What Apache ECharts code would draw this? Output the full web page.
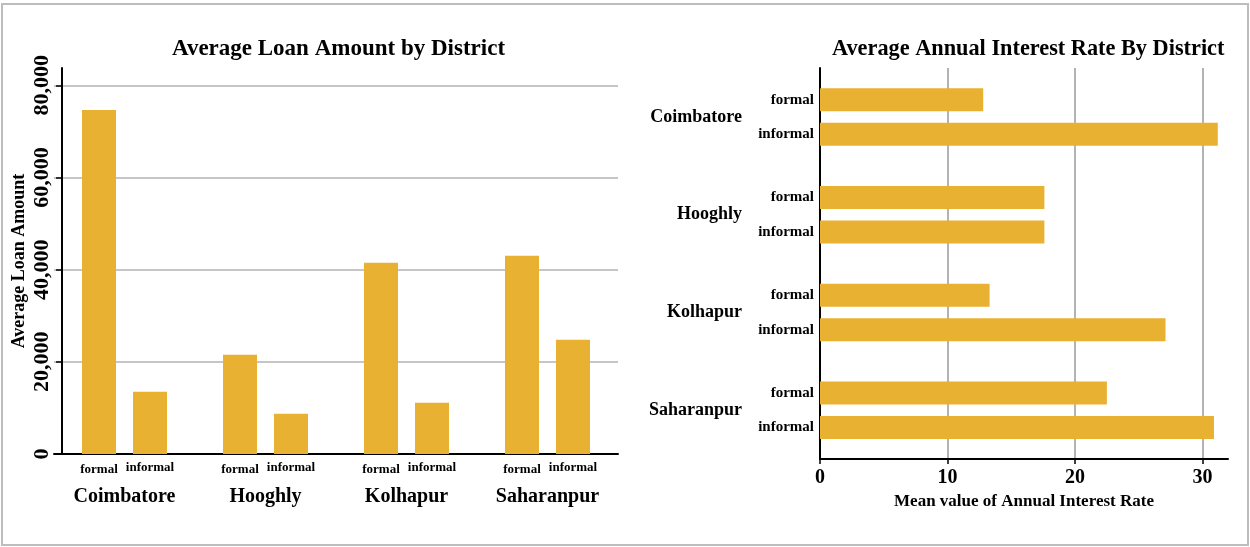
<!DOCTYPE html>
<html>
<head>
<meta charset="utf-8">
<script src="https://cdn.jsdelivr.net/npm/echarts@6/dist/echarts.min.js"></script>
<style>
html, body { margin: 0; padding: 0; background: #fff; }
#main { width: 1250px; height: 547px; }
</style>
</head>
<body>
<div id="main"></div>
<script>
// data
var districts = ['Coimbatore', 'Hooghly', 'Kolhapur', 'Saharanpur'];
var loanFormal = [74650, 21530, 41470, 42990];
var loanInformal = [13500, 8740, 11120, 24780];
var rateFormal = [12.8, 17.6, 13.3, 22.5];
var rateInformal = [31.2, 17.6, 27.1, 30.9];
var loanTicks = [0, 20000, 40000, 60000, 80000];
var rateTicks = [0, 10, 20, 30];

var serif = "'Liberation Serif', 'Times New Roman', serif";
var barColor = '#E9B131';
var gridColor = '#b3b3b3';

var myChart = echarts.init(document.getElementById('main'));

var option = {
    backgroundColor: '#fff',
    animation: false,
    title: [{
        text: 'Average Loan Amount by District',
        left: 172, top: 38, padding: 0,
        textStyle: { fontFamily: serif, fontSize: 23, fontWeight: 'bold', color: '#000' }
    }, {
        text: 'Average Annual Interest Rate By District',
        left: 832, top: 38, padding: 0,
        textStyle: { fontFamily: serif, fontSize: 22.3, fontWeight: 'bold', color: '#000' }
    }],
    graphic: [{
        type: 'rect',
        shape: { x: 2, y: 4, width: 1246, height: 541 },
        style: { fill: 'none', stroke: '#bdbdbd', lineWidth: 2 },
        silent: true
    }],
    grid: [
        { left: 54, top: 68, width: 564, height: 386 },
        { left: 820, top: 68, width: 408, height: 391 }
    ],
    xAxis: [{
        gridIndex: 0,
        type: 'category',
        data: districts,
        axisLine: { lineStyle: { color: '#000', width: 2 } },
        axisTick: { show: false },
        axisLabel: { margin: 33, fontFamily: serif, fontSize: 20, fontWeight: 'bold', color: '#000' }
    }, {
        gridIndex: 1,
        type: 'value',
        min: 0, max: 32, interval: 10,
        name: 'Mean value of Annual Interest Rate',
        nameLocation: 'middle',
        nameGap: 32,
        nameTextStyle: { fontFamily: serif, fontSize: 17, fontWeight: 'bold', color: '#000' },
        axisLine: { show: true, lineStyle: { color: '#000', width: 2 } },
        axisTick: { show: true, length: 5, customValues: rateTicks, lineStyle: { color: '#000', width: 1.5 } },
        axisLabel: { customValues: rateTicks, margin: 9, fontFamily: serif, fontSize: 20, fontWeight: 'bold', color: '#000' },
        splitLine: { show: true, showMinLine: false, lineStyle: { color: gridColor, width: 2 } }
    }],
    yAxis: [{
        gridIndex: 0,
        type: 'value',
        min: 0, max: 83750, interval: 20000,
        offset: -8,
        name: 'Average Loan Amount',
        nameLocation: 'middle',
        nameRotate: 90,
        nameGap: 34,
        nameTextStyle: { fontFamily: serif, fontSize: 18, fontWeight: 'bold', color: '#000' },
        axisLine: { show: true, lineStyle: { color: '#000', width: 2 } },
        axisTick: { show: true, length: 6, customValues: loanTicks, lineStyle: { color: '#000', width: 1.5 } },
        axisLabel: {
            customValues: loanTicks,
            rotate: 90, margin: 9,
            fontFamily: serif, fontSize: 22, fontWeight: 'bold', color: '#000',
            formatter: function (v) { return v.toLocaleString('en-US'); }
        },
        splitLine: { show: true, showMinLine: false, lineStyle: { color: gridColor, width: 1.5 } }
    }, {
        gridIndex: 1,
        type: 'category',
        inverse: true,
        data: districts,
        axisLine: { lineStyle: { color: '#000', width: 2 } },
        axisTick: { show: false },
        axisLabel: { margin: 78, fontFamily: serif, fontSize: 18, fontWeight: 'bold', color: '#000' }
    }],
    series: [{
        name: 'formal', type: 'bar', xAxisIndex: 0, yAxisIndex: 0,
        data: loanFormal, barWidth: 34, barGap: '50%',
        itemStyle: { color: barColor },
        label: { show: true, position: 'bottom', distance: 9, formatter: '{a}',
                 fontFamily: serif, fontSize: 13, fontWeight: 'bold', color: '#000' }
    }, {
        name: 'informal', type: 'bar', xAxisIndex: 0, yAxisIndex: 0,
        data: loanInformal, barWidth: 34, barGap: '50%',
        itemStyle: { color: barColor },
        label: { show: true, position: 'bottom', distance: 7, formatter: '{a}',
                 fontFamily: serif, fontSize: 13, fontWeight: 'bold', color: '#000' }
    }, {
        name: 'formal', type: 'bar', xAxisIndex: 1, yAxisIndex: 1,
        data: rateFormal, barWidth: 23, barGap: '50%',
        itemStyle: { color: barColor },
        label: { show: true, position: 'left', distance: 6, formatter: '{a}',
                 fontFamily: serif, fontSize: 15, fontWeight: 'bold', color: '#000' }
    }, {
        name: 'informal', type: 'bar', xAxisIndex: 1, yAxisIndex: 1,
        data: rateInformal, barWidth: 23, barGap: '50%',
        itemStyle: { color: barColor },
        label: { show: true, position: 'left', distance: 6, formatter: '{a}',
                 fontFamily: serif, fontSize: 15, fontWeight: 'bold', color: '#000' }
    }]
};

myChart.setOption(option);
</script>
</body>
</html>
